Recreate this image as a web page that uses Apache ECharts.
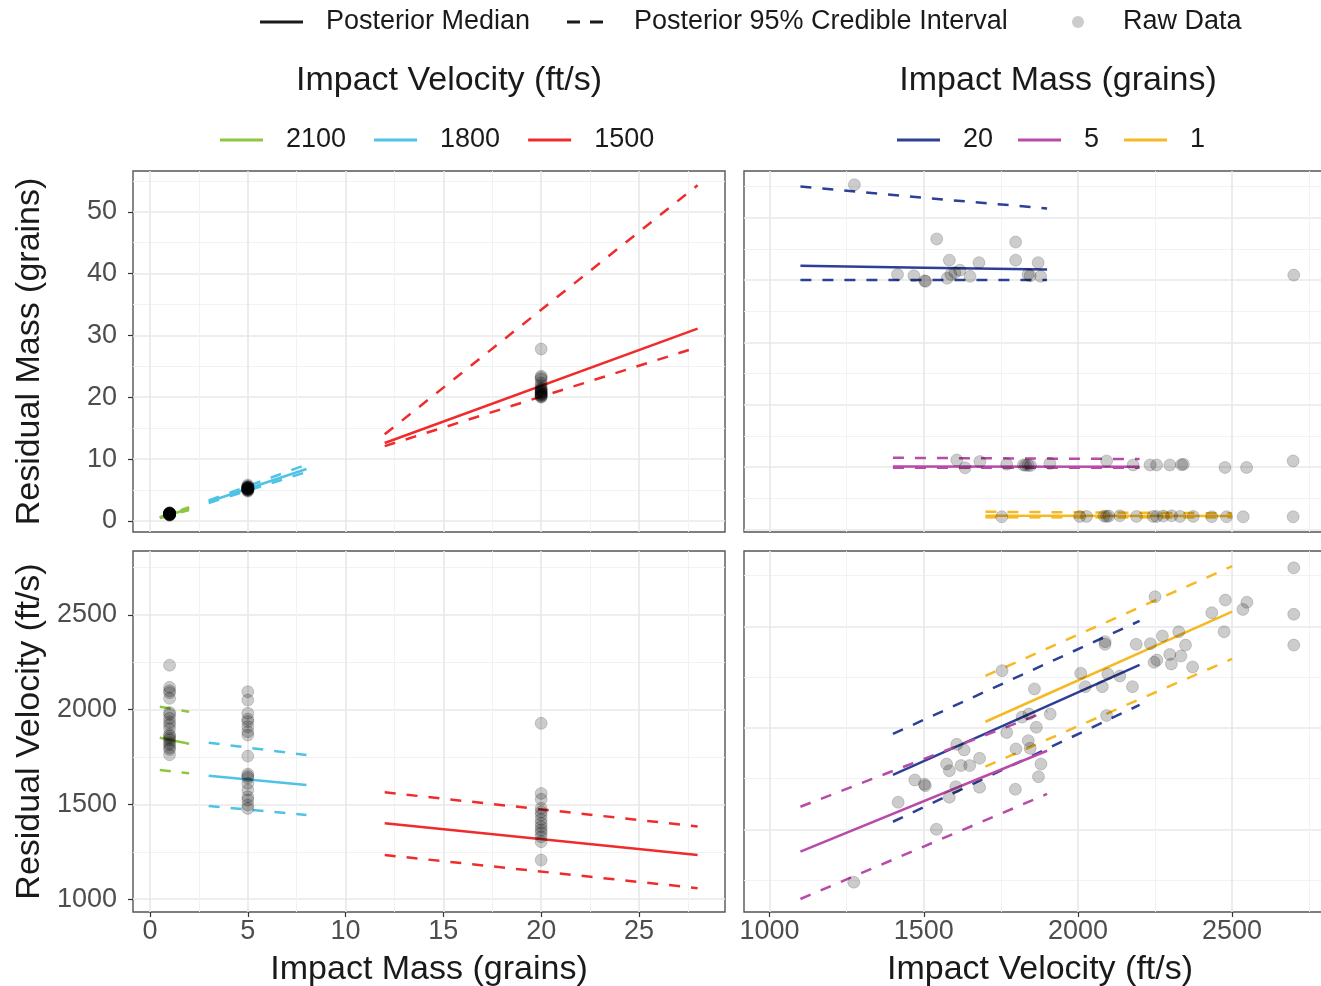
<!DOCTYPE html>
<html>
<head>
<meta charset="utf-8">
<script src="https://cdn.jsdelivr.net/npm/echarts@6/dist/echarts.min.js"></script>
<style>
html, body { margin: 0; padding: 0; background: #fff; }
#chart-container { width: 1321px; height: 986px; }
</style>
</head>
<body>
<div id="chart-container"></div>
<script>
var dom = document.getElementById('chart-container');
var myChart = echarts.init(dom, null, {
    renderer: 'canvas',
    useDirtyRect: false
});

// groups used for colour legends
var velocityGroups = ['2100', '1800', '1500'];
var massGroups = ['20', '5', '1'];
var velocityColors = ['#8dc63f', '#4ec3e6', '#ef2b2b'];
var massColors = ['#2e3f96', '#b84aa8', '#f6b923'];

// top left: residual mass vs impact mass (fits by impact velocity)
var tlMass2100 = [0.5, 2.0];
var tlMed2100 = [0.5, 1.95];
var tlLow2100 = [0.45, 1.75];
var tlHigh2100 = [0.6, 2.2];
var tlMass1800 = [3, 8];
var tlMed1800 = [3.1, 8.4];
var tlLow1800 = [2.9, 7.9];
var tlHigh1800 = [3.3, 9.1];
var tlMass1500 = [12, 28];
var tlMed1500 = [12.6, 31.1];
var tlLow1500 = [12.1, 28.1];
var tlHigh1500 = [14.0, 54.3];

var tlResMass1 = [0.9, 1.0, 1.0, 1.05, 1.1, 1.1, 1.1, 1.15, 1.2, 1.2, 1.2, 1.2, 1.25, 1.3, 1.3, 0.95, 1.05, 1.15, 1.25, 1.1];
var tlResMass5 = [4.8, 4.9, 5.0, 5.0, 5.1, 5.1, 5.2, 5.2, 5.3, 5.3, 5.4, 5.4, 5.5, 5.5, 5.6, 5.8, 5.2, 5.3];
var tlResMass20 = [27.8, 23.4, 23.2, 22.9, 22.3, 21.9, 21.5, 21.3, 21.2, 21.0, 20.8, 20.7, 20.5, 20.4, 20.3, 20.2, 20.1, 20.0, 20.6, 21.0];

// bottom left: residual velocity vs impact mass
var blMed2100 = [1852, 1820];
var blLow2100 = [1682, 1664];
var blHigh2100 = [2016, 1989];
var blMed1800 = [1651, 1602];
var blLow1800 = [1492, 1444];
var blHigh1800 = [1826, 1761];
var blMed1500 = [1400, 1233];
var blLow1500 = [1233, 1058];
var blHigh1500 = [1564, 1384];

var blResVel1 = [2235, 2118, 2100, 2090, 2060, 1985, 1975, 1955, 1935, 1920, 1900, 1870, 1860, 1850, 1840, 1825, 1815, 1800, 1790, 1762];
var blResVel5 = [2095, 2051, 1981, 1950, 1937, 1910, 1884, 1866, 1755, 1660, 1650, 1640, 1611, 1576, 1540, 1523, 1497, 1479];
var blResVel20 = [1928, 1558, 1527, 1480, 1461, 1444, 1420, 1400, 1382, 1365, 1350, 1329, 1303, 1206];

// top right: residual mass vs impact velocity (fits by impact mass)
var trVel20 = [1100, 1500, 1900];
var trMed20 = [42.3, 42.0, 41.7];
var trLow20 = [40.0, 40.0, 40.0];
var trHigh20 = [55.0, 53.2, 51.5];
var trVel5 = [1400, 2200];
var trMed5 = [10.1, 10.05];
var trLow5 = [9.9, 9.9];
var trHigh5 = [11.5, 11.3];
var trVel1 = [1700, 2500];
var trMed1 = [2.2, 2.15];
var trLow1 = [1.95, 1.95];
var trHigh1 = [2.85, 2.6];

var trPtVel20 = [1275, 1542, 1798, 1583, 1679, 1798, 1871, 1617, 1601, 1415, 1468, 1503, 1506, 1576, 1650, 1838, 1845, 1879, 1588, 2700];
var trPtRes20 = [55.3, 46.6, 46.1, 43.2, 42.8, 43.2, 42.8, 41.6, 41.2, 40.9, 40.7, 39.9, 39.8, 40.3, 40.6, 40.9, 40.7, 40.6, 40.9, 40.8];
var trPtVel5 = [1607, 1634, 1682, 1769, 1823, 1830, 1838, 1846, 1909, 2093, 2179, 2234, 2255, 2298, 2336, 2342, 2477, 2547, 2698];
var trPtRes5 = [11.15, 9.9, 10.9, 10.45, 10.35, 10.3, 10.3, 10.25, 10.6, 11.0, 10.35, 10.35, 10.35, 10.35, 10.4, 10.45, 9.95, 9.95, 11.0];
var trPtVel1 = [1753, 2006, 2028, 2085, 2093, 2100, 2136, 2190, 2244, 2255, 2277, 2304, 2331, 2374, 2434, 2482, 2536, 2698];
var trPtRes1 = [2.05, 2.1, 2.1, 2.15, 2.1, 2.15, 2.2, 2.1, 2.1, 2.1, 2.15, 2.2, 2.1, 2.1, 2.05, 2.05, 2.05, 2.05];

// bottom right: residual velocity vs impact velocity
var brVel20 = [1400, 2200];
var brMed20 = [1768, 2310];
var brLow20 = [1537, 2113];
var brHigh20 = [1970, 2527];
var brVel5 = [1100, 1900];
var brMed5 = [1390, 1887];
var brLow5 = [1156, 1674];
var brHigh5 = [1611, 2082];
var brVel1 = [1700, 2500];
var brMed1 = [2030, 2573];
var brLow1 = [1809, 2340];
var brHigh1 = [2256, 2797];

var brPtVel = [2700, 2700, 2700, 2250, 2478, 2548, 2535, 2434, 2474, 2327, 2274, 2349, 2189, 2235, 2088, 2088,
    2298, 2334, 2256, 2303, 2247, 2372, 2009, 2097, 2136, 2024, 2079, 2177, 1754, 1859, 2093, 1910, 1819, 1841,
    1865, 1769, 1839, 1799, 1845, 1607, 1631, 1681, 1574, 1583, 1621, 1649, 1880, 1872, 1471, 1502, 1505, 1604,
    1681, 1797, 1583, 1417, 1541, 1273];
var brPtRes = [2789, 2560, 2408, 2646, 2630, 2619, 2584, 2568, 2474, 2474, 2453, 2408, 2412, 2415, 2425, 2412,
    2362, 2354, 2334, 2315, 2323, 2300, 2269, 2266, 2256, 2203, 2203, 2203, 2282, 2192, 2061, 2068, 2053, 2068,
    2003, 1977, 1937, 1896, 1899, 1919, 1891, 1850, 1822, 1789, 1814, 1814, 1822, 1759, 1743, 1722, 1715, 1710,
    1707, 1697, 1658, 1633, 1500, 1239];

// axis ticks / gridlines
var massTicks = [0, 5, 10, 15, 20, 25];
var massMinor = [2.5, 7.5, 12.5, 17.5, 22.5, 27.5];
var velTicks = [1000, 1500, 2000, 2500];
var velMinor = [1250, 1750, 2250, 2750];
var resMassTicks = [0, 10, 20, 30, 40, 50];
var resMassMinor = [5, 15, 25, 35, 45, 55];
var resVelTicks = [1000, 1500, 2000, 2500];
var resVelMinor = [1250, 1750, 2250, 2750];

var fontFamily = 'Liberation Sans';
var tickLine = { color: '#333333', width: 1.2 };

function majorAxis(grid, pos, min, max, ticks, show, name, nameGap) {
    return {
        type: 'value', gridIndex: grid, position: pos, min: min, max: max,
        axisLine: { show: false, onZero: false },
        axisTick: { show: show, customValues: ticks, length: 5, lineStyle: tickLine },
        axisLabel: {
            show: show, customValues: ticks, margin: pos === 'left' ? 16 : 6,
            color: '#4d4d4d', fontSize: 27, fontFamily: fontFamily,
            formatter: function (v) { return String(v); }
        },
        splitLine: { show: true, lineStyle: { color: '#e8e8e8', width: 1.6 } },
        name: name || '', nameLocation: 'middle', nameGap: nameGap || 0, nameMoveOverlap: false,
        nameTextStyle: { color: '#1a1a1a', fontSize: 34, fontFamily: fontFamily }
    };
}
function minorAxis(grid, pos, min, max, ticks) {
    return {
        type: 'value', gridIndex: grid, position: pos, min: min, max: max,
        axisLine: { show: false, onZero: false },
        axisTick: { show: false, customValues: ticks },
        axisLabel: { show: false },
        splitLine: { show: true, lineStyle: { color: '#f1f1f1', width: 0.9 } }
    };
}

function pairs(xs, ys) {
    return xs.map(function (x, i) { return [x, ys[i]]; });
}
function column(x, ys) {
    return ys.map(function (y) { return [x, y]; });
}
function bandSeries(name, color, xs, med, low, high, axis) {
    var base = { type: 'line', name: name, color: color, xAxisIndex: axis, yAxisIndex: axis, symbol: 'none', silent: true, z: 2 };
    return [
        Object.assign({}, base, { data: pairs(xs, med), lineStyle: { color: color, width: 2.5 } }),
        Object.assign({}, base, { data: pairs(xs, low), lineStyle: { color: color, width: 2.5, type: [11, 11] } }),
        Object.assign({}, base, { data: pairs(xs, high), lineStyle: { color: color, width: 2.5, type: [11, 11] } })
    ];
}
function rawSeries(points, axis) {
    return {
        type: 'scatter', name: 'Raw Data', xAxisIndex: axis, yAxisIndex: axis, data: points,
        symbolSize: 12, silent: true, z: 3,
        itemStyle: { color: 'rgba(0,0,0,0.25)', borderColor: 'rgba(0,0,0,0.2)', borderWidth: 1 }
    };
}

var series = [
    { type: 'line', name: 'Posterior Median', color: '#1a1a1a', data: [], xAxisIndex: 0, yAxisIndex: 0 },
    { type: 'line', name: 'Posterior 95% Credible Interval', color: '#1a1a1a', data: [], xAxisIndex: 0, yAxisIndex: 0 }
];
series = series.concat(
    bandSeries(velocityGroups[0], velocityColors[0], tlMass2100, tlMed2100, tlLow2100, tlHigh2100, 0),
    bandSeries(velocityGroups[1], velocityColors[1], tlMass1800, tlMed1800, tlLow1800, tlHigh1800, 0),
    bandSeries(velocityGroups[2], velocityColors[2], tlMass1500, tlMed1500, tlLow1500, tlHigh1500, 0),
    bandSeries(massGroups[0], massColors[0], trVel20, trMed20, trLow20, trHigh20, 2),
    bandSeries(massGroups[1], massColors[1], trVel5, trMed5, trLow5, trHigh5, 2),
    bandSeries(massGroups[2], massColors[2], trVel1, trMed1, trLow1, trHigh1, 2),
    bandSeries(velocityGroups[0], velocityColors[0], tlMass2100, blMed2100, blLow2100, blHigh2100, 4),
    bandSeries(velocityGroups[1], velocityColors[1], tlMass1800, blMed1800, blLow1800, blHigh1800, 4),
    bandSeries(velocityGroups[2], velocityColors[2], tlMass1500, blMed1500, blLow1500, blHigh1500, 4),
    bandSeries(massGroups[0], massColors[0], brVel20, brMed20, brLow20, brHigh20, 6),
    bandSeries(massGroups[1], massColors[1], brVel5, brMed5, brLow5, brHigh5, 6),
    bandSeries(massGroups[2], massColors[2], brVel1, brMed1, brLow1, brHigh1, 6),
    [
        rawSeries(column(1, tlResMass1).concat(column(5, tlResMass5), column(20, tlResMass20)), 0),
        rawSeries(pairs(trPtVel20, trPtRes20).concat(pairs(trPtVel5, trPtRes5), pairs(trPtVel1, trPtRes1)), 2),
        rawSeries(column(1, blResVel1).concat(column(5, blResVel5), column(20, blResVel20)), 4),
        rawSeries(pairs(brPtVel, brPtRes), 6)
    ]
);

var gridBase = { show: true, borderColor: '#555555', borderWidth: 1.4, backgroundColor: '#ffffff', containLabel: false, outerBoundsMode: 'none' };
var legendText = { color: '#1a1a1a', fontSize: 27, fontFamily: fontFamily };
var legendBase = { orient: 'horizontal', padding: 0, selectedMode: false, itemStyle: { borderWidth: 0 } };
var dashIcon = 'path://M0,0h13v3h-13zM23,0h13v3h-13z';

option = {
    animation: false,
    textStyle: { fontFamily: fontFamily },
    grid: [
        Object.assign({ left: 133, top: 171, width: 592, height: 361 }, gridBase),
        Object.assign({ left: 744, top: 171, width: 592, height: 361 }, gridBase),
        Object.assign({ left: 133, top: 551, width: 592, height: 361 }, gridBase),
        Object.assign({ left: 744, top: 551, width: 592, height: 361 }, gridBase)
    ],
    xAxis: [
        majorAxis(0, 'bottom', -0.87, 29.4, massTicks, false),
        minorAxis(0, 'top', -0.87, 29.4, massMinor),
        majorAxis(1, 'bottom', 917, 2837, velTicks, false),
        minorAxis(1, 'top', 917, 2837, velMinor),
        majorAxis(2, 'bottom', -0.87, 29.4, massTicks, true, 'Impact Mass (grains)', 41),
        minorAxis(2, 'top', -0.87, 29.4, massMinor),
        majorAxis(3, 'bottom', 917, 2837, velTicks, true, 'Impact Velocity (ft/s)', 41),
        minorAxis(3, 'top', 917, 2837, velMinor)
    ],
    yAxis: [
        majorAxis(0, 'left', -1.8, 56.6, resMassTicks, true, 'Residual Mass (grains)', 86),
        minorAxis(0, 'right', -1.8, 56.6, resMassMinor),
        majorAxis(1, 'left', -0.4, 57.5, resMassTicks, false),
        minorAxis(1, 'right', -0.4, 57.5, resMassMinor),
        majorAxis(2, 'left', 932, 2838, resVelTicks, true, 'Residual Velocity (ft/s)', 86),
        minorAxis(2, 'right', 932, 2838, resVelMinor),
        majorAxis(3, 'left', 1092, 2872, resVelTicks, false),
        minorAxis(3, 'right', 1092, 2872, resVelMinor)
    ],
    legend: [
        Object.assign({}, legendBase, {
            left: 260, top: 8.5, itemWidth: 43, itemHeight: 3,
            data: [{ name: 'Posterior Median', icon: 'rect' }],
            textStyle: Object.assign({ padding: [0, 0, 0, 18] }, legendText)
        }),
        Object.assign({}, legendBase, {
            left: 567, top: 8.5, itemWidth: 36, itemHeight: 3,
            data: [{ name: 'Posterior 95% Credible Interval', icon: dashIcon }],
            textStyle: Object.assign({ padding: [0, 0, 0, 26] }, legendText)
        }),
        Object.assign({}, legendBase, {
            left: 1072, top: 8.5, itemWidth: 12, itemHeight: 12,
            data: [{ name: 'Raw Data', icon: 'circle' }],
            textStyle: Object.assign({ padding: [0, 0, 0, 34] }, legendText)
        }),
        Object.assign({}, legendBase, {
            left: 220, top: 126.5, itemWidth: 43, itemHeight: 3, itemGap: 28,
            data: velocityGroups.map(function (n) { return { name: n, icon: 'rect' }; }),
            textStyle: Object.assign({ padding: [0, 0, 0, 18] }, legendText)
        }),
        Object.assign({}, legendBase, {
            left: 897, top: 126.5, itemWidth: 43, itemHeight: 3, itemGap: 25,
            data: massGroups.map(function (n) { return { name: n, icon: 'rect' }; }),
            textStyle: Object.assign({ padding: [0, 0, 0, 18] }, legendText)
        })
    ],
    graphic: [
        {
            type: 'text', x: 449, y: 81, silent: true,
            style: { text: 'Impact Velocity (ft/s)', fill: '#1a1a1a', font: '34px "Liberation Sans"', align: 'center', verticalAlign: 'middle', textAlign: 'center', textVerticalAlign: 'middle' }
        },
        {
            type: 'text', x: 1058, y: 81, silent: true,
            style: { text: 'Impact Mass (grains)', fill: '#1a1a1a', font: '34px "Liberation Sans"', align: 'center', verticalAlign: 'middle', textAlign: 'center', textVerticalAlign: 'middle' }
        }
    ],
    series: series
};

if (option && typeof option === 'object') {
    myChart.setOption(option);
}

window.addEventListener('resize', myChart.resize);
</script>
</body>
</html>
